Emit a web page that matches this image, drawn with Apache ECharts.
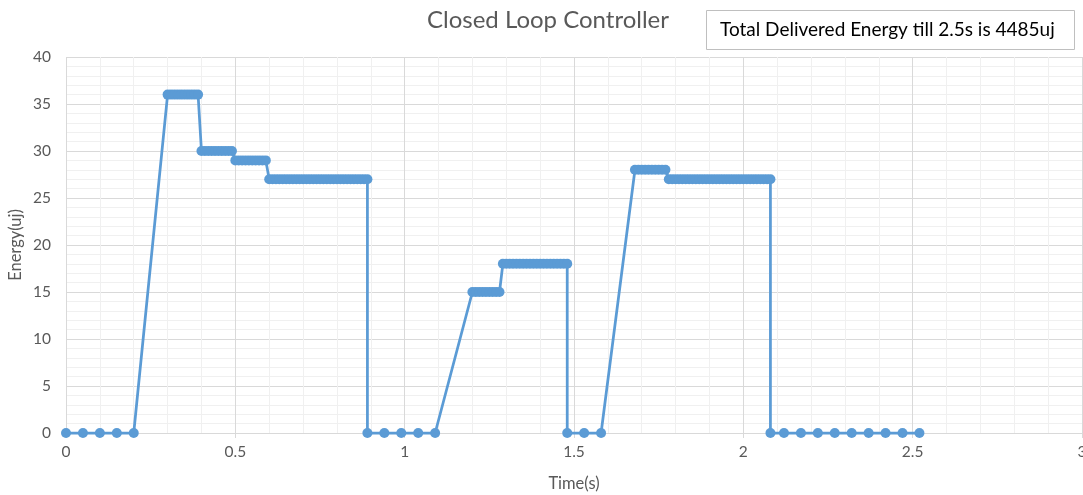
<!DOCTYPE html>
<html>
<head>
<meta charset="utf-8">
<script src="https://cdn.jsdelivr.net/npm/echarts@6/dist/echarts.min.js"></script>
<style>
html,body{margin:0;padding:0;background:#fff;}
#chart{width:1083px;height:495px;}
</style>
</head>
<body>
<div id="chart"></div>
<script>
// Time (s) samples
const timeS = [
  0, 0.05, 0.10, 0.15, 0.20,
  0.30, 0.31, 0.32, 0.33, 0.34, 0.35, 0.36, 0.37, 0.38, 0.39,
  0.40, 0.41, 0.42, 0.43, 0.44, 0.45, 0.46, 0.47, 0.48, 0.49,
  0.50, 0.51, 0.52, 0.53, 0.54, 0.55, 0.56, 0.57, 0.58, 0.59,
  0.60, 0.61, 0.62, 0.63, 0.64, 0.65, 0.66, 0.67, 0.68, 0.69,
  0.70, 0.71, 0.72, 0.73, 0.74, 0.75, 0.76, 0.77, 0.78, 0.79,
  0.80, 0.81, 0.82, 0.83, 0.84, 0.85, 0.86, 0.87, 0.88, 0.89,
  0.89, 0.94, 0.99, 1.04, 1.09,
  1.20, 1.21, 1.22, 1.23, 1.24, 1.25, 1.26, 1.27, 1.28,
  1.29, 1.30, 1.31, 1.32, 1.33, 1.34, 1.35, 1.36, 1.37, 1.38,
  1.39, 1.40, 1.41, 1.42, 1.43, 1.44, 1.45, 1.46, 1.47, 1.48,
  1.48, 1.53, 1.58,
  1.68, 1.69, 1.70, 1.71, 1.72, 1.73, 1.74, 1.75, 1.76, 1.77,
  1.78, 1.79, 1.80, 1.81, 1.82, 1.83, 1.84, 1.85, 1.86, 1.87,
  1.88, 1.89, 1.90, 1.91, 1.92, 1.93, 1.94, 1.95, 1.96, 1.97,
  1.98, 1.99, 2.00, 2.01, 2.02, 2.03, 2.04, 2.05, 2.06, 2.07, 2.08,
  2.08, 2.12, 2.17, 2.22, 2.27, 2.32, 2.37, 2.42, 2.47, 2.52
];
// Energy (uj) at each sample
const energyUj = [
  0, 0, 0, 0, 0,
  36, 36, 36, 36, 36, 36, 36, 36, 36, 36,
  30, 30, 30, 30, 30, 30, 30, 30, 30, 30,
  29, 29, 29, 29, 29, 29, 29, 29, 29, 29,
  27, 27, 27, 27, 27, 27, 27, 27, 27, 27,
  27, 27, 27, 27, 27, 27, 27, 27, 27, 27,
  27, 27, 27, 27, 27, 27, 27, 27, 27, 27,
  0, 0, 0, 0, 0,
  15, 15, 15, 15, 15, 15, 15, 15, 15,
  18, 18, 18, 18, 18, 18, 18, 18, 18, 18,
  18, 18, 18, 18, 18, 18, 18, 18, 18, 18,
  0, 0, 0,
  28, 28, 28, 28, 28, 28, 28, 28, 28, 28,
  27, 27, 27, 27, 27, 27, 27, 27, 27, 27,
  27, 27, 27, 27, 27, 27, 27, 27, 27, 27,
  27, 27, 27, 27, 27, 27, 27, 27, 27, 27, 27,
  0, 0, 0, 0, 0, 0, 0, 0, 0, 0
];
const chartTitle = 'Closed Loop Controller';
const noteText = 'Total Delivered Energy till 2.5s is 4485uj';
const xAxisName = 'Time(s)';
const yAxisName = 'Energy(uj)';

const points = timeS.map((t, i) => [t, energyUj[i]]);
const FONT = 'Lato, "Open Sans", sans-serif';
const chart = echarts.init(document.getElementById('chart'), null, {renderer: 'canvas'});
chart.setOption({
  animation: false,
  backgroundColor: '#ffffff',
  title: {
    text: chartTitle,
    left: 543, top: 3, textAlign: 'center',
    textStyle: {fontFamily: FONT, fontSize: 24, fontWeight: 'normal', color: '#595959'}
  },
  graphic: [
    {type: 'rect', shape: {x: 706.5, y: 10.5, width: 368, height: 39},
     style: {fill: '#ffffff', stroke: '#bfbfbf', lineWidth: 1}, z: 10},
    {type: 'text', x: 720, y: 30,
     style: {text: noteText, fontFamily: FONT, fontSize: 19, fill: '#000000', verticalAlign: 'middle'}, z: 11}
  ],
  grid: {left: 66, right: 1, top: 57, bottom: 62, containLabel: false, outerBoundsMode: 'none'},
  xAxis: {
    type: 'value', min: 0, max: 3, interval: 0.5,
    name: xAxisName, nameLocation: 'middle', nameGap: 42, nameMoveOverlap: false,
    nameTextStyle: {fontFamily: FONT, fontSize: 16.5, color: '#595959'},
    axisLine: {show: true, onZero: false, lineStyle: {color: '#d9d9d9', width: 1}},
    axisTick: {show: true, length: 5, lineStyle: {color: '#d9d9d9'}},
    axisLabel: {margin: 11, fontFamily: FONT, fontSize: 15.5, color: '#595959'},
    splitLine: {show: true, lineStyle: {color: '#d9d9d9', width: 1}},
    minorTick: {show: false, splitNumber: 5},
    minorSplitLine: {show: true, lineStyle: {color: '#f0f0f0', width: 1}}
  },
  yAxis: {
    type: 'value', min: 0, max: 40, interval: 5,
    name: yAxisName, nameLocation: 'middle', nameGap: 42, nameRotate: 90, nameMoveOverlap: false,
    nameTextStyle: {fontFamily: FONT, fontSize: 16.5, color: '#595959'},
    axisLine: {show: false},
    axisTick: {show: false},
    axisLabel: {margin: 15, fontFamily: FONT, fontSize: 15.5, color: '#595959'},
    splitLine: {show: true, lineStyle: {color: '#d9d9d9', width: 1}},
    minorTick: {show: false, splitNumber: 5},
    minorSplitLine: {show: true, lineStyle: {color: '#f0f0f0', width: 1}}
  },
  series: [{
    type: 'line',
    data: points,
    symbol: 'circle',
    symbolSize: 10,
    showAllSymbol: true,
    lineStyle: {color: '#5b9bd5', width: 2.75},
    itemStyle: {color: '#5b9bd5'},
    emphasis: {disabled: true},
    clip: false
  }]
});
</script>
</body>
</html>
